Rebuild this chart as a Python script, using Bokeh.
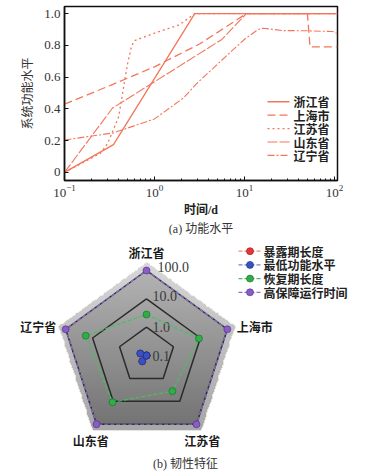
import numpy as np
from bokeh.plotting import figure
from bokeh.models import Range1d, FixedTicker, Label, Title
from bokeh.embed import file_html
from bokeh.resources import INLINE
from bokeh.core.properties import value

# ---------------- data: (a) function level ----------------
names = ["浙江省", "上海市", "江苏省", "山东省", "辽宁省"]
zj_t = [0.1, 0.35, 2.8, 108]
zj_v = [0.0, 0.175, 1.0, 1.0]
sh_t = [0.1, 0.33, 1.0, 3.2, 10.5, 50, 53.5, 108]
sh_v = [0.43, 0.55, 0.665, 0.81, 1.0, 1.0, 0.79, 0.79]
js_t = [0.1, 0.25, 0.3, 0.4, 0.5, 0.56, 0.6, 1.0, 1.9, 2.8, 108]
js_v = [0.0, 0.12, 0.18, 0.35, 0.68, 0.80, 0.83, 0.877, 0.93, 1.0, 1.0]
sd_t = [0.1, 0.34, 5.6, 10.5, 108]
sd_v = [0.0, 0.404, 0.837, 1.0, 1.0]
ln_t = [0.1, 0.35, 1.0, 1.6, 2.1, 2.95, 6.3, 10.1, 14.2, 16.1, 26.8, 48.7, 96, 108]
ln_v = [0.204, 0.249, 0.337, 0.42, 0.469, 0.56, 0.734, 0.84, 0.90, 0.908, 0.893, 0.892, 0.887, 0.873]
y_ticks = [0.0, 0.2, 0.4, 0.6, 0.8, 1.0]
y_tick_labels = ["0", "0.2", "0.4", "0.6", "0.8", "1.0"]

# ---------------- data: (b) resilience radar ----------------
axes_names = ["浙江省", "上海市", "江苏省", "山东省", "辽宁省"]
exposure = [0.1, 0.1, 0.1, 0.18, 0.17]
min_level = [0.1, 0.1, 0.1, 0.18, 0.17]
recovery = [2.8, 8.8, 3.6, 11.0, 18.0]
high_time = [100.0, 100.0, 100.0, 100.0, 100.0]
ring_values = [0.1, 1.0, 10.0, 100.0]
ring_labels = ["0.1", "1.0", "10.0", "100.0"]
series_names = ["暴露期长度", "最低功能水平", "恢复期长度", "高保障运行时间"]

SERIF = "Liberation Serif"
CJK = "Noto Sans CJK SC"
MIX = "'Liberation Serif', 'Noto Sans CJK SC'"

# ================= top chart =================
X0, X1 = 0.1, 108
Y0, Y1 = -0.0508, 1.0447
FL, FW, FT, FH = 64, 273, 6, 179   # frame geometry in pixels

p1 = figure(width=375, height=235, x_axis_type="log",
            x_range=Range1d(X0, X1), y_range=Range1d(Y0, Y1),
            output_backend="svg", toolbar_location=None,
            min_border_left=FL, min_border_right=375 - FL - FW,
            min_border_top=FT, min_border_bottom=235 - FT - FH)
p1.xgrid.visible = False
p1.ygrid.visible = False
p1.outline_line_color = "#111111"
p1.outline_line_width = 1.5
p1.background_fill_color = "white"
p1.border_fill_color = "white"

for ax in (p1.xaxis[0], p1.yaxis[0]):
    ax.axis_line_width = 1.5
    ax.axis_line_color = "#111111"
    ax.major_tick_in = 4
    ax.major_tick_out = 0
    ax.minor_tick_in = 2
    ax.minor_tick_out = 0
    ax.major_tick_line_color = "#111111"
    ax.minor_tick_line_color = "#111111"
    ax.major_label_text_font = SERIF
    ax.major_label_text_font_size = "13px"
    ax.major_label_text_color = "#333333"

p1.yaxis.ticker = FixedTicker(ticks=y_ticks)
p1.yaxis.major_label_overrides = dict(zip(y_ticks, y_tick_labels))
p1.yaxis.major_label_standoff = 4
p1.yaxis.axis_label = "系统功能水平"
p1.yaxis.axis_label_text_font = CJK
p1.yaxis.axis_label_text_font_size = "12px"
p1.yaxis.axis_label_text_font_style = "normal"
p1.yaxis.axis_label_text_color = "#333333"
p1.yaxis.axis_label_standoff = 6

p1.xaxis.major_label_standoff = 4
p1.xaxis.axis_label = "时间/d"
p1.xaxis.axis_label_text_font = MIX
p1.xaxis.axis_label_text_font_size = "12px"
p1.xaxis.axis_label_text_font_style = "bold"
p1.xaxis.axis_label_text_color = "#222222"
p1.xaxis.axis_label_standoff = 3


def px_x(px):
    lo, hi = np.log10(X0), np.log10(X1)
    return 10 ** (lo + (px - FL) / FW * (hi - lo))


def px_y(py):
    return Y1 - (py - FT) / FH * (Y1 - Y0)


col = "#f3765a"
styles = [("solid", 1.3), ("8 4", 1.3), ("2 3", 1.3), ("10 2", 1.1), ("7 2 2 2", 1.1)]
for i, (name, t, v, (dash, w)) in enumerate(zip(
        names, [zj_t, sh_t, js_t, sd_t, ln_t], [zj_v, sh_v, js_v, sd_v, ln_v], styles)):
    p1.line(t, v, line_color=col, line_width=w, line_dash=dash)
    row_y = px_y(104 + 13.8 * i)
    p1.line([px_x(267), px_x(289)], [row_y, row_y], line_color=col, line_width=w, line_dash=dash)
    p1.text([px_x(293)], [row_y], text=[name], text_font=value(CJK), text_font_size="12px",
            text_font_style="bold", text_color="#222222", text_align="left",
            text_baseline="middle")

p1.add_layout(Title(text="(a) 功能水平", align="center", text_font=MIX,
                    text_font_size="12px", text_font_style="normal",
                    text_color="#333333", standoff=0, offset=0), "below")

# ================= radar chart =================
S = 28.33
CX, CY = 146, 120   # radar centre in figure pixels (from top-left)
p2 = figure(width=375, height=238,
            x_range=Range1d(-CX / S, (375 - CX) / S), y_range=Range1d(-(238 - CY) / S, CY / S),
            output_backend="svg", toolbar_location=None, min_border=0)
p2.axis.visible = False
p2.xgrid.visible = False
p2.ygrid.visible = False
p2.outline_line_color = None
p2.background_fill_color = "white"
p2.border_fill_color = "white"

ang = np.deg2rad(90 - 72 * np.arange(5))


def to_xy(vals):
    r = np.log10(np.asarray(vals, dtype=float)) + 1.0
    return r * np.cos(ang), r * np.sin(ang)


def pent_mask(X, Y, R):
    inside = np.ones_like(X, dtype=bool)
    for k in range(5):
        phi = np.deg2rad(90 + 36 + 72 * k)
        inside &= (X * np.cos(phi) + Y * np.sin(phi)) <= R * np.cos(np.deg2rad(36))
    return inside


# gradient background
n = 240
half = 3.6
g = np.linspace(-half, half, n)
X, Y = np.meshgrid(g, g)
rmax = np.log10(ring_values[-1]) + 1.0
outer = pent_mask(X, Y, rmax + 0.27)
inner = pent_mask(X, Y, rmax)
ybot = -rmax * np.cos(np.deg2rad(36))
t = np.clip((Y - ybot) / (rmax - ybot), 0, 1)
shade_in = 116 + t * (180 - 116)
shade_out = 168 + t * (214 - 168)
shade = np.where(inner, shade_in, shade_out)
img = np.zeros((n, n), dtype=np.uint32)
view = img.view(dtype=np.uint8).reshape((n, n, 4))
view[:, :, 0] = shade.astype(np.uint8)
view[:, :, 1] = shade.astype(np.uint8)
view[:, :, 2] = shade.astype(np.uint8)
view[:, :, 3] = np.where(outer, 255, 0).astype(np.uint8)
p2.image_rgba(image=[img], x=-half, y=-half, dw=2 * half, dh=2 * half)

# rings
for rv in ring_values:
    r = np.log10(rv) + 1.0
    if r > 0:
        xs = list(r * np.cos(ang)) + [r * np.cos(ang[0])]
        ys = list(r * np.sin(ang)) + [r * np.sin(ang[0])]
        p2.line(xs, ys, line_color="#2b2b2b", line_width=1.5)

# ring labels
for rv, lab in zip(ring_values, ring_labels):
    r = np.log10(rv) + 1.0
    p2.text([0], [r], text=[lab], text_font=value(SERIF), text_font_size="14px",
            text_color="#3a3a3a", text_align="left", text_baseline="middle",
            x_offset=6 + (5 if r > 2.5 else 0), y_offset=-(4 if r > 2.5 else (3 if r > 1.5 else 0)))


def qx(px):
    return (px - CX) / S


def qy(py):
    return (CY - py) / S


# series + manual legend
colors = [("#e8353a", "#f08a8a", "#a01010"),
          ("#3552c8", "#6a85d6", "#1a2a80"),
          ("#2fae48", "#4cbd62", "#136a25"),
          ("#8a5cc8", "#8e6fd0", "#4a2a80")]
for i, (name, vals, (fc, lc, dk)) in enumerate(zip(
        series_names, [exposure, min_level, recovery, high_time], colors)):
    x, y = to_xy(vals)
    xc = list(x) + [x[0]]
    yc = list(y) + [y[0]]
    p2.line(xc, yc, line_color=lc, line_width=1.2, line_dash="4 2")
    p2.scatter(x, y, size=7, fill_color=fc, line_color=dk, line_width=0.6)
    ry = qy(15.7 + 13.7 * i)
    p2.line([qx(238), qx(261)], [ry, ry], line_color=lc, line_width=1.2, line_dash="4 2")
    p2.scatter([qx(249.5)], [ry], size=7, fill_color=fc, line_color=dk, line_width=0.6)
    p2.text([qx(263)], [ry], text=[name], text_font=value(CJK), text_font_size="12px",
            text_font_style="bold", text_color="#222222", text_align="left",
            text_baseline="middle")

# axis (province) labels
RL = 3.35
for k, nm in enumerate(axes_names):
    cx, cy = RL * np.cos(ang[k]), RL * np.sin(ang[k])
    if abs(np.cos(ang[k])) < 0.1:
        al, bl = "center", "bottom"
    elif abs(np.cos(ang[k])) > 0.9:
        al, bl = ("left" if np.cos(ang[k]) > 0 else "right"), "middle"
    else:
        al, bl = "center", "top"
    p2.text([cx], [cy], text=[nm], text_font=value(CJK), text_font_size="12px",
            text_font_style="bold", text_color="#1a1a1a",
            text_align=al, text_baseline=bl)

p2.add_layout(Label(x=185, y=10, x_units="screen", y_units="screen",
                    text="(b) 韧性特征", text_align="center", text_baseline="middle",
                    text_font=MIX, text_font_size="12px", text_color="#333333"))

open("out.html", "w").write(file_html([p1, p2], INLINE))
